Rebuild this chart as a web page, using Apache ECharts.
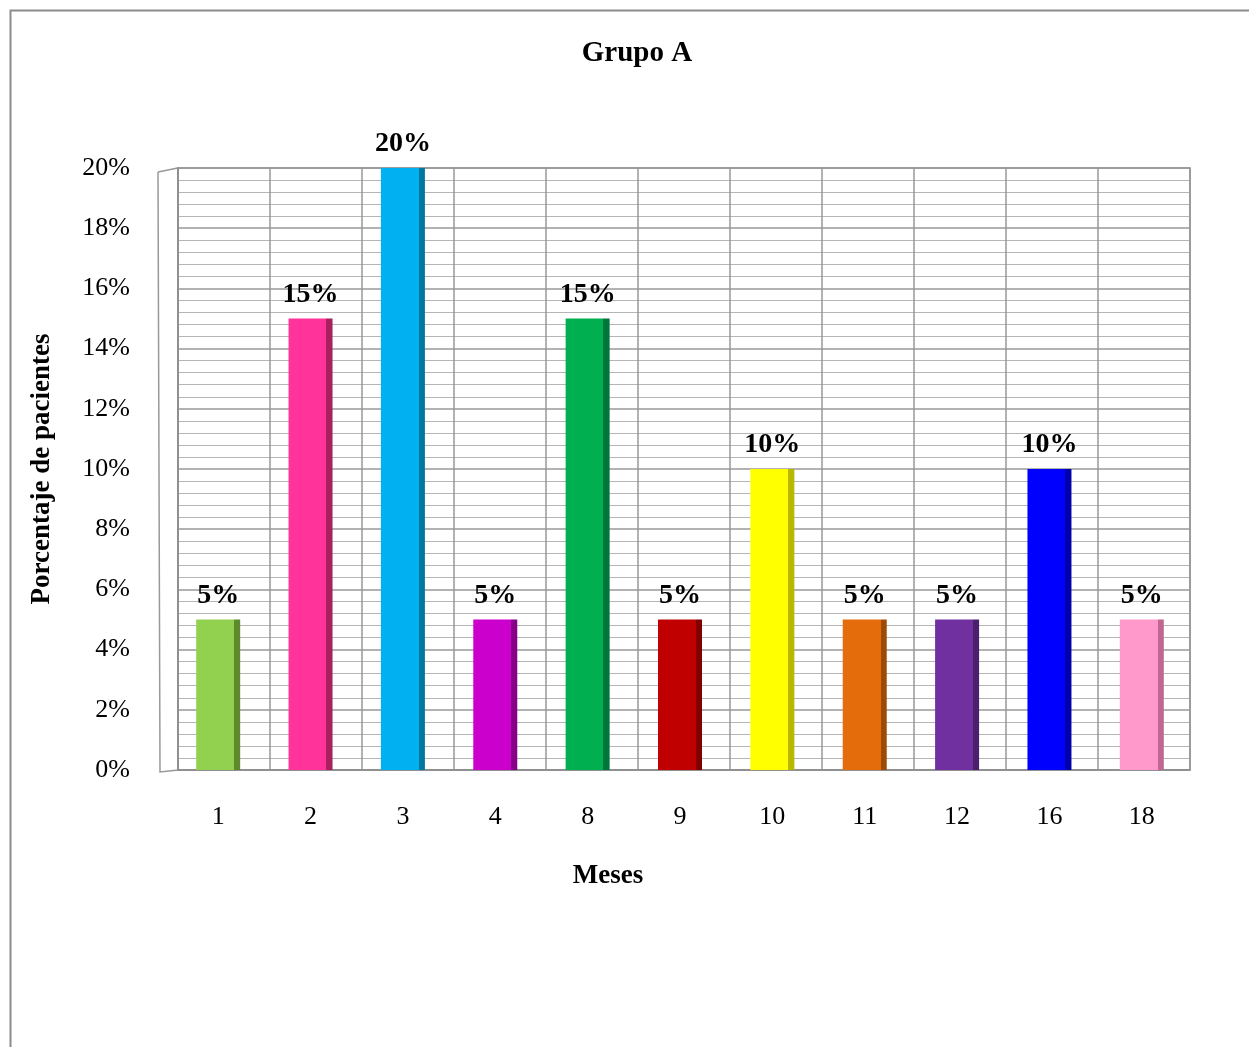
<!DOCTYPE html>
<html>
<head>
<meta charset="utf-8">
<script src="https://cdn.jsdelivr.net/npm/echarts@6/dist/echarts.min.js"></script>
<style>
  html, body { margin: 0; padding: 0; background: #fff; }
  #chart { width: 1249px; height: 1047px; }
</style>
</head>
<body>
<div id="chart"></div>
<script>
// data
var meses = ['1', '2', '3', '4', '8', '9', '10', '11', '12', '16', '18'];
var porcentaje = [5, 15, 20, 5, 15, 5, 10, 5, 5, 10, 5];
var barColors = ['#92D050', '#FF3399', '#00B0F0', '#CC00CC', '#00B050', '#C00000',
                 '#FFFF00', '#E46C0A', '#7030A0', '#0000FF', '#FF99CC'];
var sideColors = ['#5E8A2E', '#A8205F', '#00779F', '#880088', '#00773A', '#800000',
                  '#B8B800', '#9E4A06', '#4A1F6B', '#0000AA', '#C06690'];

var serif = '"Liberation Serif", "Times New Roman", serif';

var myChart = echarts.init(document.getElementById('chart'));

var barData = porcentaje.map(function (v, i) {
  return {
    value: v,
    itemStyle: {
      // flat face + darker side face to hint the 3D look
      color: new echarts.graphic.LinearGradient(0, 0, 1, 0, [
        { offset: 0, color: barColors[i] },
        { offset: 0.86, color: barColors[i] },
        { offset: 0.86, color: sideColors[i] },
        { offset: 1, color: sideColors[i] }
      ])
    }
  };
});

var option = {
  backgroundColor: '#fff',
  animation: false,
  graphic: [{
    type: 'rect',
    shape: { x: 10.5, y: 10.5, width: 1260, height: 1060 },
    style: { fill: 'none', stroke: '#8c8c8c', lineWidth: 2 },
    silent: true
  }, {
    // left wall edge of the 3d box
    type: 'polyline',
    shape: { points: [[158, 172], [178, 168], [178, 770], [160, 772], [158, 172]] },
    style: { fill: 'none', stroke: '#999', lineWidth: 1.5 },
    silent: true
  }],
  title: [{
    text: 'Grupo A',
    left: 632,
    top: 34,
    textAlign: 'center',
    textStyle: { fontFamily: serif, fontWeight: 'bold', fontSize: 29, color: '#000' }
  }, {
    text: 'Meses',
    left: 603,
    top: 858,
    textAlign: 'center',
    textStyle: { fontFamily: serif, fontWeight: 'bold', fontSize: 27, color: '#000' }
  }],
  grid: [{
    // back wall
    left: 178,
    right: 59,
    top: 168,
    bottom: 277,
    show: true,
    borderColor: '#8c8c8c',
    borderWidth: 1.5
  }, {
    // front plane where the bars stand
    left: 172,
    right: 61,
    top: 168,
    bottom: 277
  }],
  xAxis: [{
    type: 'category',
    gridIndex: 0,
    data: meses,
    axisLine: { lineStyle: { color: '#8c8c8c', width: 1.5 } },
    axisTick: { show: false },
    axisLabel: { show: false },
    splitLine: { show: true, lineStyle: { color: '#999', width: 1.5 } }
  }, {
    type: 'category',
    gridIndex: 1,
    data: meses,
    axisLine: { show: false },
    axisTick: { show: false },
    axisLabel: { fontFamily: serif, fontSize: 26, color: '#000', margin: 34 },
    splitLine: { show: false }
  }],
  yAxis: [{
    type: 'value',
    gridIndex: 0,
    min: 0,
    max: 20,
    interval: 2,
    name: 'Porcentaje de pacientes',
    nameLocation: 'middle',
    nameGap: 122,
    nameRotate: 90,
    nameTextStyle: { fontFamily: serif, fontWeight: 'bold', fontSize: 27, color: '#000' },
    axisLine: { show: true, lineStyle: { color: '#8c8c8c', width: 1.5 } },
    axisTick: { show: false },
    axisLabel: { fontFamily: serif, fontSize: 26, color: '#000', margin: 48, formatter: '{value}%' },
    splitLine: { show: true, lineStyle: { color: '#999', width: 1.5 } },
    minorTick: { show: false, splitNumber: 5 },
    minorSplitLine: { show: true, lineStyle: { color: '#b5b5b5', width: 1 } }
  }, {
    type: 'value',
    gridIndex: 1,
    min: 0,
    max: 20,
    interval: 2,
    show: false
  }],
  series: [{
    type: 'bar',
    xAxisIndex: 1,
    yAxisIndex: 1,
    data: barData,
    barWidth: 44,
    label: {
      show: true,
      position: 'top',
      distance: 10,
      formatter: '{c}%',
      fontFamily: serif,
      fontWeight: 'bold',
      fontSize: 28,
      color: '#000'
    }
  }]
};

myChart.setOption(option);
</script>
</body>
</html>
